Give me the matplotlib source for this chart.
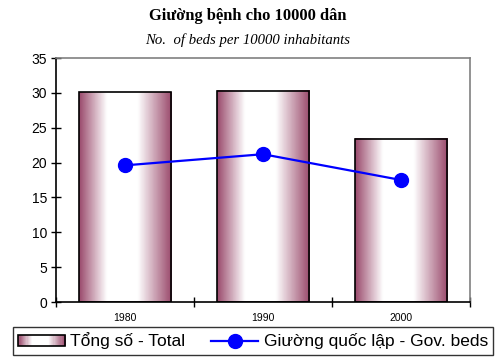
import numpy as np
import matplotlib
matplotlib.use("Agg")
import matplotlib.pyplot as plt
from matplotlib.patches import Rectangle
from matplotlib.colors import LinearSegmentedColormap
from matplotlib.legend_handler import HandlerBase
from matplotlib.lines import Line2D

years = ["1980", "1990", "2000"]
total = [30.1, 30.3, 23.4]
gov = [19.6, 21.2, 17.5]

plt.rcParams['font.family'] = ['Liberation Sans', 'DejaVu Sans']

edge = "#9a4a6c"
cmap = LinearSegmentedColormap.from_list("g", [edge, "#ffffff", "#ffffff", edge], N=256)

fig = plt.figure(figsize=(4.96, 3.58), dpi=100)
ax = fig.add_axes([56/496, 56/358, 414/496, 244/358])

x = np.arange(len(years))
w = 0.67
g = np.linspace(0, 1, 256)
prof = np.interp(g, [0, 0.45, 1], [0, 0.5, 1])
img = cmap(prof)[None, :, :]
for xi, v in zip(x, total):
    ax.imshow(img, extent=[xi - w/2, xi + w/2, 0, v], aspect='auto', zorder=2, interpolation='bilinear')
    ax.add_patch(Rectangle((xi - w/2, 0), w, v, fill=False, edgecolor='black', lw=1.2, zorder=3))

ax.plot(x, gov, color='#0000ff', lw=1.6, marker='o', markersize=10, zorder=4)

ax.set_xlim(-0.5, 2.5)
ax.set_ylim(0, 35)
ax.set_yticks(range(0, 36, 5))
ax.set_xticks([-0.5, 0.5, 1.5, 2.5])
ax.set_xticklabels([])
ax.set_xticks(x, minor=True)
ax.set_xticklabels(years, minor=True, fontsize=7.5)
ax.tick_params(axis='x', which='minor', length=0, pad=8)
ax.tick_params(axis='x', which='major', direction='inout', length=7, width=1)
ax.tick_params(axis='y', direction='inout', length=7, width=1, labelsize=10, pad=3)
for s in ['top', 'right']:
    ax.spines[s].set_color('#808080')
    ax.spines[s].set_linewidth(1.2)
for s in ['left', 'bottom']:
    ax.spines[s].set_color('black')
    ax.spines[s].set_linewidth(1.2)

fig.text(0.5, 1 - 16/358, "Giường bệnh cho 10000 dân", ha='center', va='center',
         family=['Liberation Serif', 'DejaVu Serif'], weight='bold', fontsize=11.9)
fig.text(0.5, 1 - 40/358, "No.  of beds per 10000 inhabitants", ha='center', va='center',
         family=['Liberation Serif', 'DejaVu Serif'], style='italic', fontsize=10.6)


class GradHandler(HandlerBase):
    def create_artists(self, legend, orig_handle, xdescent, ydescent, width, height, fontsize, trans):
        arts = []
        n = 40
        for i in range(n):
            c = cmap(np.interp((i + 0.5) / n, [0, 0.45, 1], [0, 0.5, 1]))
            r = Rectangle((-xdescent + width * i / n, -ydescent), width / n + 0.3, height,
                          facecolor=c, edgecolor='none', transform=trans)
            arts.append(r)
        arts.append(Rectangle((-xdescent, -ydescent), width, height, fill=False,
                              edgecolor='black', lw=1.2, transform=trans))
        return arts


bar_handle = Rectangle((0, 0), 1, 1)
line_handle = Line2D([], [], color='#0000ff', lw=1.6, marker='o', markersize=10)
leg = fig.legend([bar_handle, line_handle], ["Tổng số - Total", "Giường quốc lập - Gov. beds"],
                 handler_map={Rectangle: GradHandler()}, ncol=2, loc='center',
                 bbox_to_anchor=(253/496, 1 - 341/358), fontsize=12.5, frameon=True,
                 fancybox=False, edgecolor='black', handlelength=2.7, handleheight=0.57,
                 columnspacing=1.5, handletextpad=0.3, borderpad=0.3, borderaxespad=0)
leg.get_frame().set_linewidth(1.0)

fig.savefig("out.png", dpi=100)
